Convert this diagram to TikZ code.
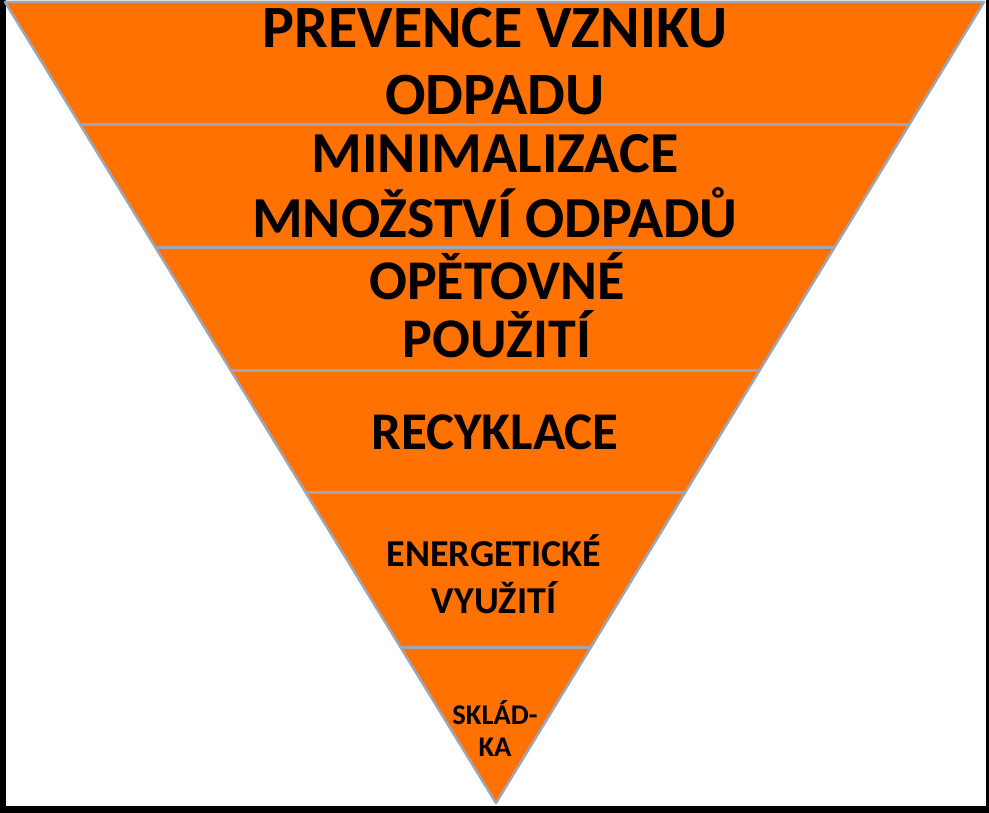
\documentclass[tikz,border=0pt]{standalone}
\usepackage{fontspec}
\setmainfont{Carlito}
\definecolor{wasteorange}{RGB}{255,113,0}
\definecolor{wasteline}{RGB}{160,165,180}
\begin{document}
\begin{tikzpicture}[x=1pt,y=1pt, lbl/.style={align=center,inner sep=0pt}]
  \fill[black] (0,0) rectangle (989,813);
  \fill[white] (6,7) rectangle (986,813);
  \useasboundingbox (0,0) rectangle (989,813);
  \draw[fill=wasteorange,draw=wasteline,line width=2.5pt,line join=round] (5,811) -- (984,811) -- (496,10) -- cycle;
  \begin{scope}
    \clip (5,811) -- (984,811) -- (496,10) -- cycle;
    \foreach \yy in {688,565,442,320,165}
      \draw[wasteline,line width=3pt] (0,\yy) -- (989,\yy);
  \end{scope}
  \node[lbl,font={\bfseries\fontsize{60}{67}\selectfont}] (prevence) at (495,751) {PREVENCE VZNIKU\\ODPADU};
  \node[lbl,font={\bfseries\fontsize{58}{65}\selectfont}] (minim) at (495,627) {MINIMALIZACE\\MNOŽSTVÍ ODPADŮ};
  \node[lbl,font={\bfseries\fontsize{56}{58}\selectfont}] (opet) at (497,508) {OPĚTOVNÉ\\POUŽITÍ};
  \node[lbl,font={\bfseries\fontsize{53}{60}\selectfont}] (recykl) at (495,381) {RECYKLACE};
  \node[lbl,font={\bfseries\fontsize{38}{47}\selectfont}] (energ) at (494,239) {ENERGETICKÉ\\VYUŽITÍ};
  \node[lbl,font={\bfseries\fontsize{28.5}{32}\selectfont}] (sklad) at (495,84) {SKLÁD-\\KA};
\end{tikzpicture}
\end{document}
